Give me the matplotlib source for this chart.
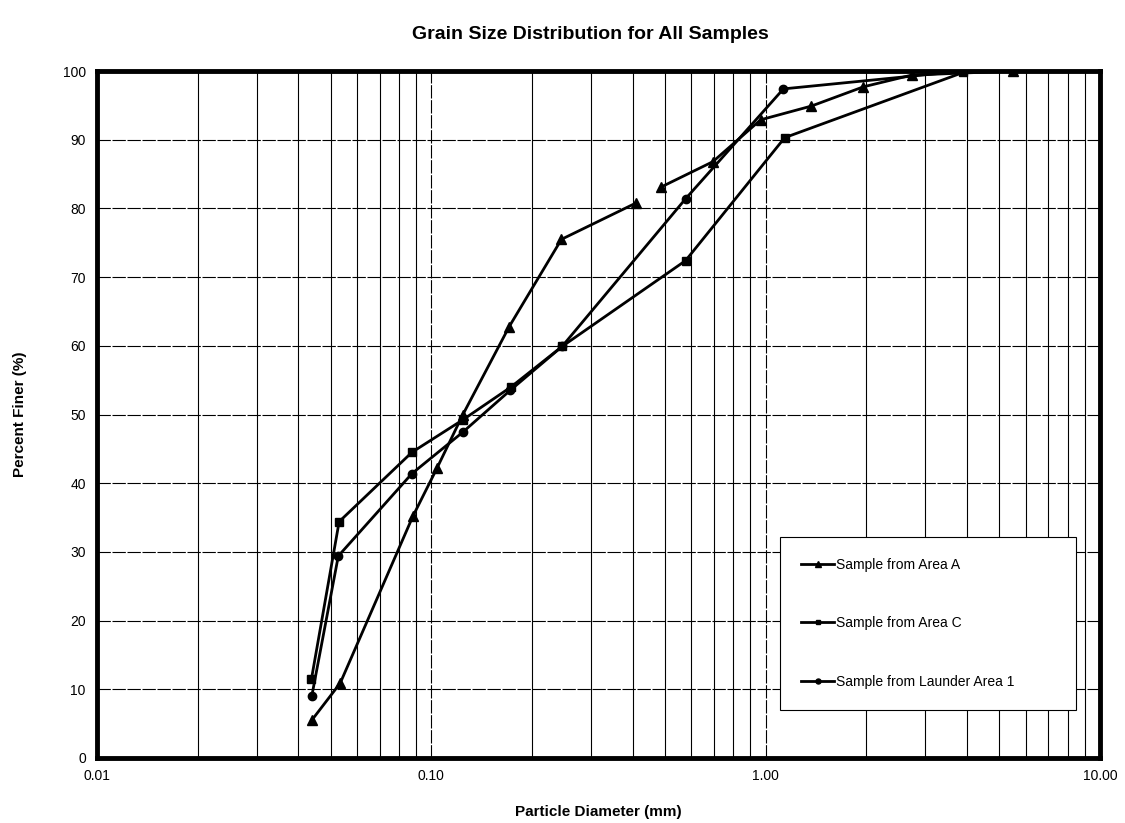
import matplotlib.pyplot as plt
import matplotlib
import numpy as np
from matplotlib.ticker import FixedLocator, NullFormatter

matplotlib.rcParams['font.family'] = ['Liberation Sans', 'DejaVu Sans']

# particle diameter (mm) and percent finer
area_a_d = [0.0439, 0.0534, 0.0881, 0.104, 0.124, 0.171, 0.245, 0.410, np.nan, 0.486, 0.695, 0.966, 1.37, 1.96, 2.73, 5.48]
area_a_p = [5.5, 10.9, 35.2, 42.2, 49.9, 62.8, 75.5, 80.8, np.nan, 83.1, 86.8, 92.9, 94.9, 97.7, 99.4, 100.0]

area_c_d = [0.0438, 0.0530, 0.0875, 0.124, 0.173, 0.246, 0.576, 1.14, 3.9]
area_c_p = [11.5, 34.4, 44.5, 49.2, 54.0, 59.9, 72.4, 90.3, 99.8]

launder_d = [0.0439, 0.0527, 0.0875, 0.124, 0.172, 0.246, 0.576, 1.13, 3.9]
launder_p = [9.0, 29.4, 41.4, 47.4, 53.5, 59.9, 81.4, 97.4, 100.0]

x_ticks = [0.01, 0.1, 1, 10]
x_ticklabels = ["0.01", "0.10", "1.00", "10.00"]
y_ticks = list(range(0, 101, 10))

if __name__ == '__main__':
    fig = plt.figure(figsize=(11.25, 8.23), dpi=100)
    ax = fig.add_axes([0.0862, 0.079, 0.8916, 0.8347])

    ax.plot(area_a_d, area_a_p, color='black', linewidth=2, marker='^', markersize=7,
            label="Sample from Area A", zorder=3)
    ax.plot(area_c_d, area_c_p, color='black', linewidth=2, marker='s', markersize=6,
            label="Sample from Area C", zorder=3)
    ax.plot(launder_d, launder_p, color='black', linewidth=2, marker='o', markersize=6,
            label="Sample from Launder Area 1", zorder=3)

    ax.set_xscale("log")
    ax.set_xlim(0.01, 10)
    ax.set_ylim(0, 100)
    ax.set_xticks(x_ticks)
    ax.set_xticklabels(x_ticklabels, fontsize=10)
    ax.xaxis.set_minor_locator(FixedLocator([m * 10.0 ** e for e in (-2, -1, 0) for m in range(2, 10)]))
    ax.xaxis.set_minor_formatter(NullFormatter())
    ax.set_yticks(y_ticks)
    ax.set_yticklabels([str(v) for v in y_ticks], fontsize=10)
    ax.tick_params(which='both', length=0, pad=8)

    ax.grid(True, which='major', axis='both', color='black', linewidth=0.8, linestyle=(0, (12, 1.5)))
    ax.grid(True, which='minor', axis='x', color='black', linewidth=0.8)
    ax.set_axisbelow(True)

    for s in ax.spines.values():
        s.set_linewidth(3.5)

    ax.set_xlabel("Particle Diameter (mm)", fontsize=11, fontweight='bold', labelpad=16)
    ax.set_ylabel("Percent Finer (%)", fontsize=11, fontweight='bold', labelpad=26)
    fig.suptitle("Grain Size Distribution for All Samples", fontsize=14, fontweight='bold',
                 x=0.525, y=0.968)

    leg = ax.legend(loc="upper left", bbox_to_anchor=(0.681, 0.0611, 0.295, 0.2606), mode='expand',
                    prop={"size": 10}, handlelength=2.4, handletextpad=0.1, labelspacing=3.2,
                    borderpad=1.5, borderaxespad=0, fancybox=False, framealpha=1, markerscale=0.6)
    leg.get_frame().set_edgecolor('black')
    leg.get_frame().set_linewidth(0.8)

    plt.savefig("out.png", dpi=100)
